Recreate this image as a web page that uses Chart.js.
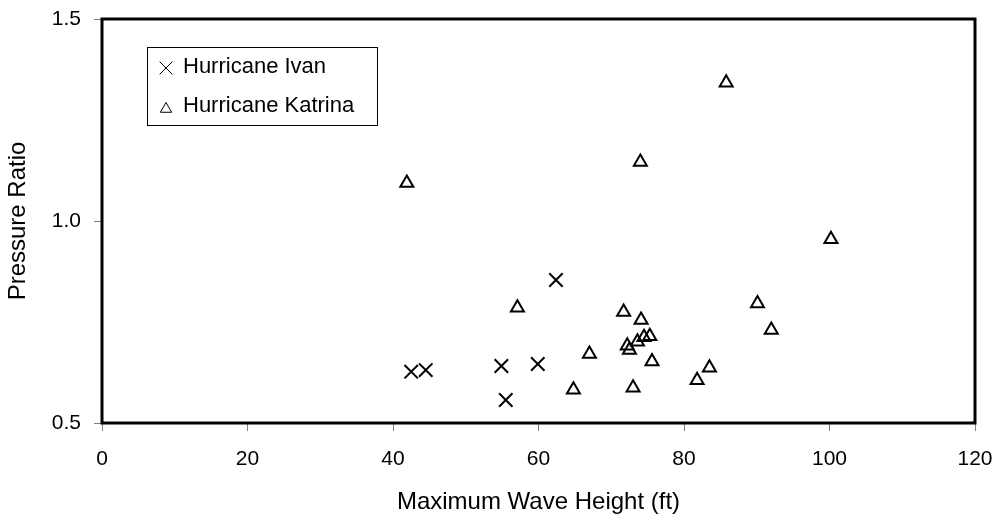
<!DOCTYPE html>
<html>
<head>
<meta charset="utf-8">
<script src="https://cdn.jsdelivr.net/npm/chart.js@4.4.1/dist/chart.umd.min.js"></script>
<style>
  html, body { margin: 0; padding: 0; background: #fff; }
  #wrap { width: 1000px; height: 523px; }
</style>
</head>
<body>
<div id="wrap"><canvas id="c" width="1000" height="523"></canvas></div>
<script>
const ivanX = [42.5, 44.5, 54.9, 55.5, 59.9, 62.4];
const ivanY = [0.627, 0.631, 0.641, 0.557, 0.646, 0.854];
const katrinaX = [41.9, 57.1, 64.8, 67.0, 71.7, 72.2, 72.5, 73.0, 73.6, 74.0, 74.1, 74.5, 75.3, 75.6, 81.8, 83.5, 85.8, 90.1, 92.0, 100.2];
const katrinaY = [1.094, 0.785, 0.582, 0.671, 0.775, 0.691, 0.681, 0.587, 0.701, 1.146, 0.755, 0.712, 0.715, 0.652, 0.606, 0.637, 1.342, 0.796, 0.730, 0.955];
const xTicks = [0, 20, 40, 60, 80, 100, 120];
const yTicks = [0.5, 1.0, 1.5];
const seriesNames = ['Hurricane Ivan', 'Hurricane Katrina'];

const FONT = 'Liberation Sans, Arial, sans-serif';

const frame = {
  id: 'frame',
  afterDatasetsDraw(chart) {
    const { ctx, chartArea: a } = chart;
    ctx.save();
    ctx.strokeStyle = '#000';
    ctx.lineWidth = 3;
    ctx.strokeRect(a.left, a.top, a.right - a.left, a.bottom - a.top);
    ctx.restore();
  }
};

const boxLegend = {
  id: 'boxLegend',
  afterDraw(chart) {
    const { ctx } = chart;
    const x0 = 147, y0 = 47, w = 230, h = 78;
    ctx.save();
    ctx.fillStyle = '#fff';
    ctx.fillRect(x0, y0, w, h);
    ctx.strokeStyle = '#000';
    ctx.lineWidth = 1;
    ctx.strokeRect(x0 + 0.5, y0 + 0.5, w, h);
    ctx.font = '22px ' + FONT;
    ctx.textBaseline = 'middle';
    chart.data.datasets.forEach((ds, i) => {
      const cy = 67 + i * 39;
      ctx.fillStyle = '#fff';
      ctx.strokeStyle = '#000';
      Chart.helpers.drawPoint(ctx, {
        pointStyle: ds.pointStyle,
        radius: ds.pointStyle === 'triangle' ? 6.5 : 9,
        borderWidth: 1.5,
        rotation: 0
      }, 166, cy + (ds.pointStyle === 'triangle' ? 3 : 1));
      ctx.fillStyle = '#000';
      ctx.fillText(ds.label, 183, cy);
    });
    ctx.restore();
  }
};

function fixPad(s) {
  s.paddingTop = 0; s.paddingBottom = 0; s.paddingLeft = 0; s.paddingRight = 0;
}

new Chart(document.getElementById('c'), {
  type: 'scatter',
  data: {
    datasets: [
      {
        label: seriesNames[0],
        data: ivanX.map((x, i) => ({ x, y: ivanY[i] })),
        pointStyle: 'crossRot',
        pointRadius: 9.5,
        pointHoverRadius: 9.5,
        borderColor: '#000',
        backgroundColor: '#000',
        pointBorderWidth: 2,
      },
      {
        label: seriesNames[1],
        data: katrinaX.map((x, i) => ({ x, y: katrinaY[i] })),
        pointStyle: 'triangle',
        pointRadius: 7.5,
        pointHoverRadius: 7.5,
        borderColor: '#000',
        backgroundColor: 'rgba(0,0,0,0)',
        pointBorderWidth: 2,
      }
    ]
  },
  options: {
    responsive: false,
    animation: false,
    events: [],
    layout: { padding: { top: 19, right: 25, left: 0, bottom: 0 } },
    plugins: { legend: { display: false }, tooltip: { enabled: false } },
    scales: {
      x: {
        type: 'linear',
        min: 0, max: 120,
        afterBuildTicks: s => { s.ticks = xTicks.map(v => ({ value: v })); },
        afterFit: s => { s.height = 100; fixPad(s); },
        grid: { display: true, drawOnChartArea: false, drawTicks: true, tickLength: 8, color: '#808080', lineWidth: 1 },
        border: { display: false },
        ticks: { color: '#000', font: { family: FONT, size: 21 }, padding: 16, maxRotation: 0, callback: v => String(v) },
        title: { display: true, text: 'Maximum Wave Height (ft)', color: '#000', font: { family: FONT, size: 24 }, padding: { top: 0, bottom: 6 } }
      },
      y: {
        type: 'linear',
        min: 0.5, max: 1.5,
        afterBuildTicks: s => { s.ticks = yTicks.map(v => ({ value: v })); },
        afterFit: s => { s.width = 102; fixPad(s); },
        grid: { display: true, drawOnChartArea: false, drawTicks: true, tickLength: 8, color: '#808080', lineWidth: 1 },
        border: { display: false },
        ticks: { color: '#000', font: { family: FONT, size: 21 }, padding: 13, callback: v => v.toFixed(1) },
        title: { display: true, text: 'Pressure Ratio', color: '#000', font: { family: FONT, size: 24 }, padding: { top: 4, bottom: 0 } }
      }
    }
  },
  plugins: [frame, boxLegend]
});
</script>
</body>
</html>
